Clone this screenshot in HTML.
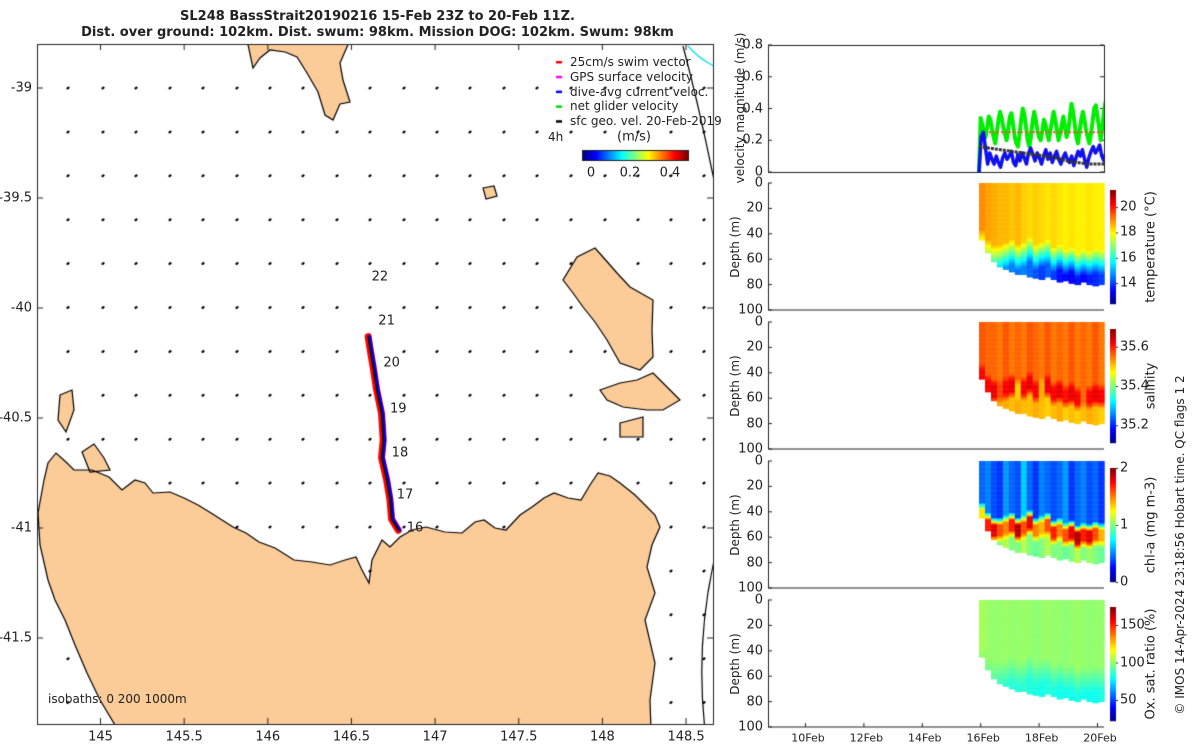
<!DOCTYPE html>
<html><head><meta charset="utf-8"><style>
body{margin:0;width:1200px;height:750px;background:#fff;position:relative;overflow:hidden;font-family:"DejaVu Sans","Liberation Sans",sans-serif;color:#222}
.t{position:absolute;font-size:13px;white-space:nowrap;line-height:1}
.r{transform-origin:center center;transform:translate(-50%,-50%) rotate(-90deg)}
canvas,svg{position:absolute;left:0;top:0}
</style></head><body>
<canvas id="cv" width="1200" height="750"></canvas>
<div class="t" style="left:0;width:755px;top:10px;text-align:center;font-weight:bold">SL248 BassStrait20190216 15-Feb 23Z to 20-Feb 11Z.<br><span style="line-height:20px">Dist. over ground: 102km. Dist. swum: 98km. Mission DOG: 102km. Swum: 98km</span></div>
<div id="labels"></div>
<script>
// ---------- data ----------
const trackLon=[146.78,146.74,146.73,146.71,146.68,146.69,146.68,146.65,146.63,146.61,146.60];
const trackLat=[-41.01,-40.96,-40.87,-40.78,-40.68,-40.60,-40.48,-40.37,-40.27,-40.18,-40.13];
const dayLabels=["16","17","18","19","20","21","22"];
const dayLon=[146.88,146.82,146.79,146.78,146.74,146.71,146.67];
const dayLat=[-41.0,-40.85,-40.66,-40.46,-40.25,-40.06,-39.86];
const latTicks=[-39,-39.5,-40,-40.5,-41,-41.5];
const lonTicks=[145,145.5,146,146.5,147,147.5,148,148.5];
const velTicks=[0,0.2,0.4,0.6,0.8];
const depthTicks=[0,20,40,60,80,100];
const dateTicks=[10,12,14,16,18,20];
const greenVel=[0.0,0.34,0.30,0.25,0.22,0.28,0.35,0.33,0.27,0.22,0.18,0.25,0.33,0.38,0.34,0.28,0.24,0.20,0.27,0.35,0.37,0.30,0.22,0.18,0.16,0.24,0.33,0.40,0.36,0.28,0.20,0.16,0.22,0.32,0.38,0.33,0.26,0.22,0.20,0.26,0.33,0.30,0.24,0.20,0.26,0.32,0.38,0.33,0.26,0.20,0.24,0.30,0.35,0.28,0.22,0.26,0.35,0.43,0.38,0.30,0.22,0.18,0.26,0.33,0.38,0.33,0.26,0.22,0.18,0.24,0.32,0.40,0.42,0.35,0.28,0.20,0.28,0.38,0.44,0.40,0.25,0.12];
const blueVel=[0.0,0.22,0.25,0.15,0.05,0.12,0.08,0.05,0.10,0.06,0.03,0.09,0.12,0.08,0.10,0.13,0.06,0.04,0.11,0.07,0.12,0.09,0.05,0.12,0.15,0.11,0.07,0.12,0.09,0.05,0.10,0.14,0.08,0.12,0.06,0.10,0.13,0.08,0.05,0.09,0.12,0.08,0.06,0.10,0.04,0.09,0.13,0.10,0.14,0.08,0.03,0.09,0.13,0.16,0.12,0.14,0.17,0.10,0.07,0.13,0.16,0.12];
const blackVel=[0.16,0.15,0.14,0.13,0.12,0.11,0.10,0.09,0.07,0.06,0.05,0.05,0.05];
const swimVel=0.25;
const tStart=15.96,tEnd=20.46;
const colBottom=[45,55,62,66,68,70,72,72,74,75,76,74,76,78,77,79,80,78,80,81,80,79];
const colMld=[40,48,52,52,50,48,52,50,46,52,50,48,54,52,56,54,58,56,57,55,56,54];
const tempSurf=[19.0,18.8,18.7,18.6,18.6,18.5,18.6,18.4,18.3,18.4,18.3,18.2,18.3,18.2,18.1,18.2,18.1,18.1,18.2,18.1,18.1,18.0];
const tempDeep=[16.5,15.8,15.3,15.0,14.8,14.6,14.5,14.6,14.4,14.2,14.0,14.3,14.0,13.6,13.5,13.4,13.6,13.5,13.7,13.8,14.0,13.9];
const salSurf=[35.57,35.56,35.56,35.55,35.57,35.55,35.56,35.55,35.57,35.56,35.55,35.57,35.55,35.56,35.55,35.57,35.55,35.56,35.55,35.57,35.55,35.56];
const salMid=[35.62,35.62,35.63,35.58,35.62,35.63,35.50,35.62,35.63,35.62,35.52,35.63,35.62,35.63,35.61,35.63,35.62,35.56,35.62,35.63,35.62,35.60];
const salDeep=[35.54,35.53,35.53,35.52,35.52,35.51,35.52,35.51,35.51,35.52,35.51,35.50,35.51,35.52,35.50,35.51,35.50,35.51,35.52,35.51,35.50,35.51];
const chlSurf=[0.45,0.5,0.4,0.35,0.55,0.45,0.4,0.65,0.45,0.35,0.5,0.45,0.4,0.45,0.55,0.35,0.45,0.5,0.4,0.45,0.35,0.45];
const chlMid=[1.3,1.7,1.8,1.6,1.5,1.7,1.9,1.6,1.8,1.5,1.4,1.6,1.7,1.5,1.6,1.8,1.9,1.7,1.8,1.6,1.4,1.3];
const chlDeep=[1.1,1.05,1.0,1.0,1.1,1.0,1.0,1.1,1.0,0.95,1.0,1.1,1.0,1.0,0.95,1.0,1.1,1.0,1.05,1.0,0.95,1.0];
const oxSurf=[104,102,101,101,102,101,101,102,101,100,101,102,101,101,100,101,102,101,100,101,101,100];
const oxDeep=[94,90,88,86,86,85,84,86,84,83,82,84,83,82,81,82,83,82,81,82,83,82];

// ---------- helpers ----------
const cv=document.getElementById('cv'),c=cv.getContext('2d');
const labels=document.getElementById('labels');
function lx(lon){return 100.5+(lon-145)*167.3;}
function ly(lat){return 88+(-39-lat)*220;}
function tx(d){return 805+(d-10)*29.2;}
function addText(txt,x,y,name,opts){
 const e=document.createElement('div');e.className='t'+(opts&&opts.rot?' r':'');e.textContent=txt;
 
 
 e.style.left=x+'px';e.style.top=y+'px';
 if(opts&&opts.fs)e.style.fontSize=opts.fs+'px';
 if(opts&&opts.align==='right'){e.style.transform='translate(-100%,-50%)';}
 else if(opts&&opts.align==='center'){e.style.transform='translate(-50%,-50%)';}
 else if(!(opts&&opts.rot)){e.style.transform='translate(0,-50%)';}
 labels.appendChild(e);return e;}
function jet(v){v=Math.max(0,Math.min(1,v));const f=x=>Math.round(255*Math.max(0,Math.min(1,1.5-Math.abs(x))));
 return 'rgb('+f(4*v-3)+','+f(4*v-2)+','+f(4*v-1)+')';}

// ---------- map ----------
const MX0=37,MY0=44,MX1=713,MY1=724;
c.save();c.beginPath();c.rect(MX0,MY0,MX1-MX0,MY1-MY0);c.clip();
const lands=[
 [[38,513],[44,480],[48,463],[56,453],[66,462],[74,470],[92,470],[109,477],[122,490],[135,480],[145,483],[153,493],[170,492],[184,498],[198,505],[211,513],[222,520],[233,527],[246,533],[259,542],[275,548],[294,560],[312,562],[330,565],[345,560],[356,557],[362,570],[369,583],[372,560],[382,540],[390,547],[400,537],[412,530],[426,527],[445,532],[462,533],[475,522],[484,520],[495,528],[506,530],[520,515],[532,507],[544,498],[554,493],[568,498],[581,500],[590,485],[598,473],[610,476],[620,483],[635,495],[647,507],[655,515],[660,527],[652,545],[647,567],[655,593],[645,620],[655,663],[650,700],[651,730],[118,730],[100,700],[87,673],[75,645],[65,620],[55,600],[48,580],[40,545]],
 [[247,40],[253,68],[260,58],[270,50],[285,52],[297,57],[307,73],[318,92],[325,115],[333,120],[340,104],[350,102],[343,80],[340,63],[350,40]],
 [[595,248],[577,257],[563,280],[573,293],[583,307],[595,322],[607,340],[620,363],[640,370],[653,357],[652,330],[653,300],[630,287],[617,273],[603,257]],
 [[600,390],[620,383],[637,380],[653,373],[663,383],[680,400],[663,410],[647,410],[623,407],[607,400]],
 [[620,423],[643,417],[643,437],[620,437]],
 [[60,395],[72,390],[74,410],[66,432],[58,420]],
 [[82,452],[94,444],[104,458],[110,470],[90,472]],
 [[483,188],[494,186],[497,196],[486,199]]
];
const landPath=new Path2D();
lands.forEach(p=>{landPath.moveTo(p[0][0],p[0][1]);p.slice(1).forEach(q=>landPath.lineTo(q[0],q[1]));landPath.closePath();});
c.fillStyle='#fbcb98';c.fill(landPath);c.strokeStyle='#000';c.lineWidth=1.2;c.stroke(landPath);
const gridX=[68,103,136,170,203,237,270,303,337,370,404,437,470,504,537,571,605,638,671,704];
c.fillStyle='#000';
for(let r=0;r<15;r++){const y=88+r*43.9;gridX.forEach(x=>{if(c.isPointInPath(landPath,x,y))return;
 c.beginPath();c.ellipse(x,y,1.8,1.2,-0.6,0,7);c.fill();});}
c.strokeStyle='#000';c.lineWidth=1.2;
c.beginPath();c.moveTo(683,46);c.quadraticCurveTo(700,110,716,190);c.stroke();
c.beginPath();c.moveTo(716,552);c.quadraticCurveTo(695,640,705,730);c.stroke();
c.strokeStyle='#00e0ee';c.beginPath();c.moveTo(688,46);c.quadraticCurveTo(700,60,718,68);c.stroke();
c.lineCap='round';c.lineJoin='round';
c.strokeStyle='#ff0000';c.lineWidth=7;c.beginPath();
trackLon.forEach((lo,i)=>{const x=lx(lo),y=ly(trackLat[i]);i?c.lineTo(x,y):c.moveTo(x,y);});c.stroke();
c.strokeStyle='#0000ee';c.lineWidth=3;c.beginPath();
trackLon.forEach((lo,i)=>{const x=lx(lo)+1.5,y=ly(trackLat[i]);i?c.lineTo(x,y):c.moveTo(x,y);});c.stroke();
c.strokeStyle='#000';c.lineWidth=1.5;c.beginPath();
trackLon.forEach((lo,i)=>{const x=lx(lo),y=ly(trackLat[i]);i?c.lineTo(x,y):c.moveTo(x,y);});c.stroke();
c.restore();
c.strokeStyle='#222';c.lineWidth=1;c.strokeRect(MX0+.5,MY0+.5,MX1-MX0,MY1-MY0);
latTicks.forEach(v=>{const y=ly(v);c.beginPath();c.moveTo(MX0,y);c.lineTo(MX0+6,y);c.moveTo(MX1,y);c.lineTo(MX1-6,y);c.stroke();
 addText(String(v),32,y,'lat-tick-label',{align:'right'});});
lonTicks.forEach(v=>{const x=lx(v);c.beginPath();c.moveTo(x,MY1);c.lineTo(x,MY1-6);c.moveTo(x,MY0);c.lineTo(x,MY0+6);c.stroke();
 addText(String(v),x,737,'lon-tick-label',{align:'center'});});
dayLabels.forEach((d,i)=>addText(d,lx(dayLon[i]),ly(dayLat[i]),'day-label',{align:'center'}));
addText('isobaths: 0   200  1000m',48,699,'isobath-note',{fs:12});
const leg=[['#ff0000','25cm/s swim vector'],['#ff00ff','GPS surface velocity'],['#0000ff','dive-avg current veloc.'],['#00dd00','net glider velocity'],['#000','sfc geo. vel. 20-Feb-2019']];
leg.forEach((l,i)=>{const y=62+i*14.8;c.fillStyle=l[0];c.fillRect(556,y-1,6,2.5);
 addText(l[1],570,y,'legend-entry',{fs:12});});
addText('4h',548,137,'legend-4h',{fs:12});
addText('(m/s)',617,137,'colorbar-unit',{fs:13});
for(let i=0;i<106;i++){c.fillStyle=jet(i/105);c.fillRect(582+i,150,1.2,10);}
c.strokeStyle='#222';c.strokeRect(582.5,150.5,106,10);
[[0,591],[0.2,630],[0.4,670]].forEach(a=>addText(String(a[0]),a[1],173,'colorbar-tick',{align:'center'}));

// ---------- right panels ----------
const PX0=768,PX1=1104;
const V0=45,V1=172;
function vy(v){return V1-(v/0.8)*(V1-V0);}
c.strokeStyle='#222';c.strokeRect(PX0+.5,V0+.5,PX1-PX0,V1-V0);
velTicks.forEach(v=>{const y=vy(v);c.beginPath();c.moveTo(PX0,y);c.lineTo(PX0+4,y);c.moveTo(PX1,y);c.lineTo(PX1-4,y);c.stroke();addText(String(v),763,y,'vel-tick',{align:'right'});});
addText('velocity magnitude (m/s)',740,108,'vel-axis-title',{rot:1,fs:12});
function series(arr,col,w,dash){c.save();c.beginPath();c.rect(PX0,V0,PX1-PX0,V1-V0);c.clip();
 c.strokeStyle=col;c.lineWidth=w;c.setLineDash(dash||[]);c.lineJoin='round';c.beginPath();
 arr.forEach((v,i)=>{const x=tx(tStart+i*(tEnd-tStart)/(arr.length-1)),y=vy(v);i?c.lineTo(x,y):c.moveTo(x,y);});c.stroke();c.restore();}
series(greenVel,'#00ee00',4);
c.save();c.strokeStyle='#ff4444';c.lineWidth=2;c.setLineDash([2,2]);c.beginPath();c.moveTo(tx(16.3),vy(swimVel));c.lineTo(PX1,vy(swimVel));c.stroke();c.restore();
series(blueVel,'#1010ee',3.5);
series(blackVel,'#333',3,[3,1]);
const panels=[
 {top:183,name:'temperature',surf:tempSurf,mid:null,deep:tempDeep,vmin:12.35,vmax:21.35,ticks:[14,16,18,20],lab:'temperature (°C)'},
 {top:322,name:'salinity',surf:salSurf,mid:salMid,deep:salDeep,vmin:35.11,vmax:35.69,ticks:[35.2,35.4,35.6],lab:'salinity'},
 {top:461,name:'chl-a',surf:chlSurf,mid:chlMid,deep:chlDeep,vmin:0,vmax:2,ticks:[0,1,2],lab:'chl-a (mg m-3)'},
 {top:600,name:'oxygen',surf:oxSurf,mid:null,deep:oxDeep,vmin:22,vmax:174,ticks:[50,100,150],lab:'Ox. sat. ratio (%)'}
];
const PH=127,n=colBottom.length;
panels.forEach(p=>{
 const dy=d=>p.top+d/100*PH;
 for(let i=0;i<n;i++){
  const x0=tx(tStart+i*(tEnd-tStart)/n),x1=Math.min(PX1,tx(tStart+(i+1)*(tEnd-tStart)/n))+0.6;
  for(let d=0;d<colBottom[i];d+=1){
   const m=colMld[i];let v;
   if(p.mid){ if(d<m-8)v=p.surf[i]; else if(d<m-2)v=p.surf[i]+(p.mid[i]-p.surf[i])*(d-m+8)/6; else if(d<m+6)v=p.mid[i]; else if(d<m+12)v=p.mid[i]+(p.deep[i]-p.mid[i])*(d-m-6)/6; else v=p.deep[i];}
   else { if(d<m-4)v=p.surf[i]; else if(d<m+16)v=p.surf[i]+(p.deep[i]-p.surf[i])*(d-m+4)/20; else v=p.deep[i];}
   c.fillStyle=jet((v-p.vmin)/(p.vmax-p.vmin));c.fillRect(x0,dy(d),x1-x0,dy(d+1)-dy(d)+0.5);
  }}
 c.strokeStyle='#222';c.lineWidth=1;
 c.beginPath();c.moveTo(PX0+.5,p.top);c.lineTo(PX0+.5,p.top+PH);c.lineTo(PX1,p.top+PH);c.stroke();
 depthTicks.forEach(d=>{const y=dy(d);c.beginPath();c.moveTo(PX0,y);c.lineTo(PX0+4,y);c.stroke();addText(String(d),763,y,'depth-tick',{align:'right'});});
 addText('Depth (m)',735,p.top+PH/2,'depth-axis-title',{rot:1,fs:12});
 const cb0=p.top+7,cb1=p.top+PH-6;
 const cy=v=>cb1-(v-p.vmin)/(p.vmax-p.vmin)*(cb1-cb0);
 for(let y=cb0;y<cb1;y++){c.fillStyle=jet((cb1-y)/(cb1-cb0));c.fillRect(1110,y,6,1.2);}
 p.ticks.forEach(t=>{const y=cy(t);c.fillStyle='#222';c.fillRect(1116,y,2,1);addText(String(t),1120,y,p.name+'-colorbar-tick');});
 addText(p.lab,1151,p.top+PH/2,p.name+'-colorbar-title',{rot:1,fs:13});
});
dateTicks.forEach(d=>{const x=tx(d);c.fillStyle='#222';c.fillRect(x,723,1,4);addText(d+'Feb',x+3,738,'date-tick',{align:'center',fs:11});});
addText('© IMOS 14-Apr-2024 23:18:56 Hobart time. QC flags 1  2',1180,545,'copyright-note',{rot:1,fs:12});
</script>
</body></html>
